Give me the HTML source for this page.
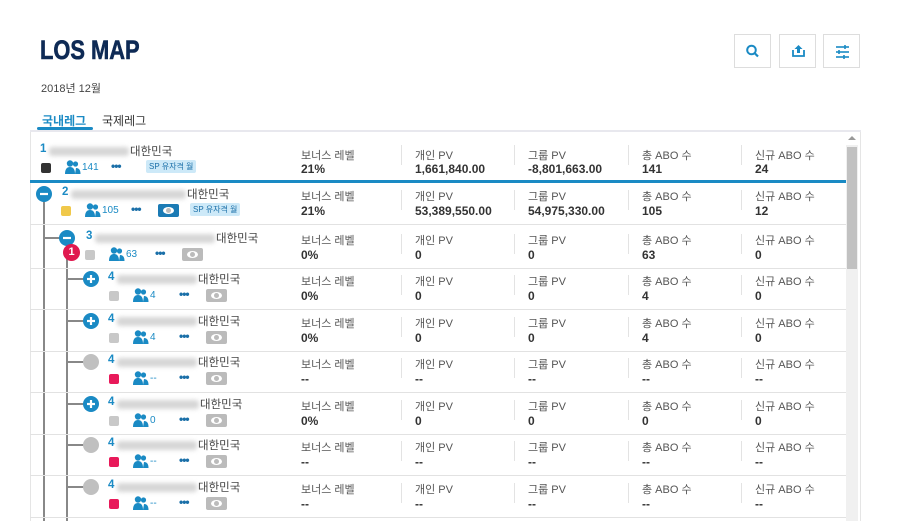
<!DOCTYPE html>
<html><head><meta charset="utf-8">
<style>
*{box-sizing:border-box;margin:0;padding:0}
html,body{width:900px;height:521px;overflow:hidden}
body{background:#fff;font-family:"Liberation Sans","Noto Sans CJK KR",sans-serif;position:relative;color:#333}
.a{position:absolute}
.btn{position:absolute;top:34px;width:37px;height:34px;border:1px solid #ddd;background:#fff}
.lbl{position:absolute;font-size:11px;color:#555;white-space:nowrap}
.val{position:absolute;font-size:12px;font-weight:bold;color:#333;white-space:nowrap}
.blur{position:absolute;height:9px;background:#d6d6d6;filter:blur(2px);border-radius:3px}
.nm{position:absolute;font-size:11.5px;color:#444;white-space:nowrap}
.num{position:absolute;font-size:11.5px;font-weight:bold;color:#1a8ac4}
.sq{position:absolute;width:10px;height:10px;border-radius:2px}
.cnt{position:absolute;font-size:10px;color:#1a8ac4}
.dots{position:absolute;font-size:12px;font-weight:bold;color:#1a6fa8;letter-spacing:-1px}
.eye{position:absolute;width:21px;height:13px;border-radius:2px;background:#bbb}
.eye::after{content:"";position:absolute;left:5px;top:3px;width:11px;height:7px;border-radius:50%;background:#fff}
.eye::before{content:"";position:absolute;left:8px;top:4px;width:5px;height:5px;border-radius:50%;background:#bbb;z-index:1}
.badge{position:absolute;font-size:8px;background:#cde9f8;color:#1a6fa8;padding:1px 3px;border-radius:2px;white-space:nowrap}
.sep{position:absolute;width:1px;height:20px;background:#e3e3e3}
.circ{position:absolute;width:16px;height:16px;border-radius:50%}
</style></head><body>
<div class="a" style="left:40px;top:35px;font-size:27px;font-weight:bold;color:#0e2a55;transform:scaleX(0.81);transform-origin:0 0;-webkit-text-stroke:0.6px #0e2a55">LOS MAP</div>
<div class="a" style="left:41px;top:80px;font-size:11px;color:#444">2018년 12월</div>
<div class="btn" style="left:734px">
<svg width="37" height="34" viewBox="0 0 37 34"><circle cx="16.5" cy="15" r="4.3" fill="none" stroke="#1a8ac4" stroke-width="2"/><line x1="19.5" y1="18" x2="23" y2="21.5" stroke="#1a8ac4" stroke-width="2.2"/></svg></div>
<div class="btn" style="left:779px">
<svg width="37" height="34" viewBox="0 0 37 34"><path d="M13 15v6h11v-6" fill="none" stroke="#1a8ac4" stroke-width="1.8"/><path d="M18.5 10l-4 4h2.5v4h3v-4h2.5z" fill="#1a8ac4"/></svg></div>
<div class="btn" style="left:823px">
<svg width="37" height="34" viewBox="0 0 37 34"><g stroke="#1a8ac4" stroke-width="1.6"><line x1="12" y1="12" x2="25" y2="12"/><line x1="12" y1="17" x2="25" y2="17"/><line x1="12" y1="22" x2="25" y2="22"/><line x1="21" y1="10" x2="21" y2="14"/><line x1="15" y1="15" x2="15" y2="19"/><line x1="20" y1="20" x2="20" y2="24"/></g></svg></div>
<div class="a" style="left:42px;top:112px;font-size:12px;color:#1a8ac4;font-weight:bold">국내레그</div>
<div class="a" style="left:37px;top:127px;width:56px;height:3px;background:#1a8ac4;border-radius:2px"></div>
<div class="a" style="left:102px;top:112px;font-size:12px;color:#333">국제레그</div>
<div class="a" style="left:30px;top:130px;width:831px;height:2px;background:#e8e8ee"></div>
<div class="a" style="left:30px;top:132px;width:831px;height:389px;border-left:1px solid #e5e5e5;border-right:1px solid #e5e5e5"></div>
<div class="a" style="left:846px;top:145px;width:12px;height:376px;background:#f0f0f0"></div>
<div class="a" style="left:847px;top:147px;width:10px;height:122px;background:#c1c1c1"></div>
<div class="a" style="left:848px;top:136px;width:0;height:0;border-left:4px solid transparent;border-right:4px solid transparent;border-bottom:4px solid #999"></div>
<div id="rows"></div>
<script>
const levels=[1,2,3,4,4,4,4,4,4];
const rowTops=[133,183,227,268,310,351,393,434,476];
const counts=["141","105","63","4","4","--","0","--","--"];
const bonus=["21%","21%","0%","0%","0%","--","0%","--","--"];
const pvs=["1,661,840.00","53,389,550.00","0","0","0","--","0","--","--"];
const gpvs=["-8,801,663.00","54,975,330.00","0","0","0","--","0","--","--"];
const abos=["141","105","63","4","4","--","0","--","--"];
const newAbos=["24","12","0","0","0","--","0","--","--"];
const sqColors=["#333","#f0c84a","#c8c8c8","#c8c8c8","#c8c8c8","#e8195a","#c8c8c8","#e8195a","#e8195a"];
const nodeState=["none","minus","minus","plus","plus","leaf","plus","leaf","leaf"];
const blurW=[80,115,120,80,80,80,82,80,80];
const colLabels=["보너스 레벨","개인 PV","그룹 PV","총 ABO 수","신규 ABO 수"];
const colX=[301,415,528,642,755];
const R=document.getElementById('rows');
function mk(cls,x,y,parent){const e=document.createElement('div');e.className=cls;e.style.left=x+'px';e.style.top=y+'px';(parent||R).appendChild(e);return e;}
let e=mk('a',43,199);e.style.width='2px';e.style.height='322px';e.style.background='#888';


e=mk('a',66,245);e.style.width='2px';e.style.height='276px';e.style.background='#888';


levels.forEach((lv,i)=>{
  const t=rowTops[i];
  const first=i==0;
  const ind=[40,62,86,108][lv-1];
  const iconX=[41,61,85,109][lv-1];
  let d=mk('a',30,t+(first?48:42)-1);d.style.width='816px';d.style.height=(first?'3px':'1px');d.style.background=(first?'#1a8ac4':'#e2e2e2');
  
  
  const cx=[0,44,67,91][lv-1], cy=t+11;
  if(nodeState[i]!='none'){
    if(lv>=3){let b=mk('a',cx-23,cy-1);b.style.width='16px';b.style.height='2px';b.style.background='#888';
      
      }
    let c=mk('circ',cx-8,cy-8);
    c.style.background=nodeState[i]=='leaf'?'#c0c0c0':'#1a8ac4';
    if(nodeState[i]!='leaf'){c.innerHTML='<svg width="16" height="16"><line x1="4" y1="8" x2="12" y2="8" stroke="#fff" stroke-width="2.2"/>'+(nodeState[i]=='plus'?'<line x1="8" y1="4" x2="8" y2="12" stroke="#fff" stroke-width="2.2"/>':'')+'</svg>';}
    
    
  }
  const ny=t+(first?10:3);
  let n=mk('num',ind,ny);n.textContent=lv;
  
  
  let bl=mk('blur',ind+9,ny+4);bl.style.width=blurW[i]+'px';
  
  
  let nm=mk('nm',ind+9+blurW[i]+1,ny);nm.textContent='대한민국';
  
  
  const y2=t+(first?29:22);
  let s=mk('sq',iconX,y2+1);s.style.background=sqColors[i];
  
  
  let p=mk('a',iconX+24,y2-2);p.innerHTML='<svg width="16" height="14"><circle cx="5" cy="3.5" r="3.2" fill="#1a8ac4"/><path d="M0 14c0-5 2-7 5-7s5 2 5 7z" fill="#1a8ac4"/><circle cx="10.5" cy="4" r="2.6" fill="#1a8ac4"/><path d="M10 14h5.5c0-4-1.5-6-4.5-6z" fill="#1a8ac4"/></svg>';
  
  
  let cn=mk('cnt',iconX+41,y2);cn.textContent=counts[i];
  
  
  let dt=mk('dots',iconX+70,y2-3);dt.textContent='•••';
  
  
  if(i>0){let ey=mk('eye',iconX+97,y2-1);if(i==1)ey.style.background='#1a7ab4';
    
    }
  if(i<2){let bg=mk('badge',i==0?146:190,y2-2);bg.textContent='SP 유자격 월';
    
    }
  const vals=[bonus[i],pvs[i],gpvs[i],abos[i],newAbos[i]];
  colX.forEach((x,k)=>{
    if(k>0){let sp=mk('sep',x-14,t+(first?12:7));
      
      }
    let l=mk('lbl',x,t+(first?14:5));l.textContent=colLabels[k];
    
    
    let v=mk('val',x,t+(first?29:21));v.textContent=vals[k];
    
    
  });
});
let nb=mk('a',63,244);nb.style.cssText+='width:17px;height:17px;border-radius:50%;background:#e0194f;color:#fff;font-size:11px;font-weight:bold;text-align:center;line-height:17px';nb.textContent='1';


</script>
</body></html>
